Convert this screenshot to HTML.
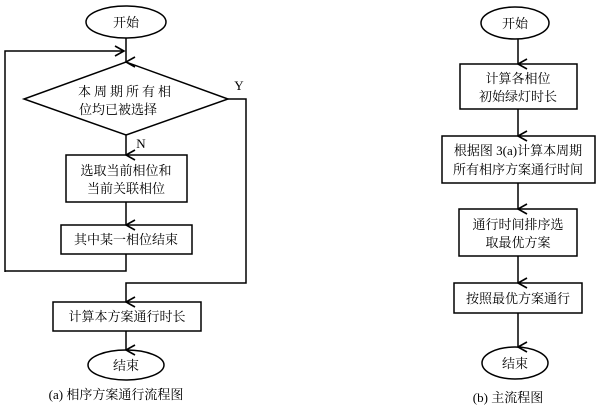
<!DOCTYPE html>
<html><head><meta charset="utf-8"><style>body{margin:0;background:#fff}svg{display:block}text{font-family:"Liberation Serif","Noto Serif CJK SC","Noto Sans CJK SC",serif;font-size:13px;fill:#000;text-anchor:middle}</style></head>
<body>
<svg width="600" height="408" viewBox="0 0 600 408" xmlns="http://www.w3.org/2000/svg">
<defs><marker id="a" markerWidth="12" markerHeight="12" refX="6" refY="10" orient="auto" markerUnits="userSpaceOnUse" viewBox="0 0 12 12"><path d="M1 1 L6 10 L11 1" fill="none" stroke="#000" stroke-width="1.6"/></marker>
<marker id="r" markerWidth="12" markerHeight="12" refX="10" refY="6" orient="auto" markerUnits="userSpaceOnUse" viewBox="0 0 12 12"><path d="M1 1 L10 6 L1 11" fill="none" stroke="#000" stroke-width="1.6"/></marker></defs>
<g stroke="#000" stroke-width="1.5" fill="none">
<ellipse cx="126" cy="22" rx="40" ry="16"/>
<line x1="126" y1="38" x2="126" y2="62" marker-end="url(#a)"/>
<polyline points="5,272 5,51 124,51" marker-end="url(#r)"/>
<polygon points="126,62 228,99 126,135 24,99"/>
<line x1="126" y1="135" x2="126" y2="155" marker-end="url(#a)"/>
<polyline points="228,99 246,99 246,283 126,283 126,302" marker-end="url(#a)"/>
<rect x="66" y="155" width="121" height="47"/>
<line x1="126" y1="202" x2="126" y2="225" marker-end="url(#a)"/>
<rect x="61" y="225" width="131" height="29"/>
<polyline points="126,254 126,271 5,271"/>
<rect x="53" y="302" width="148" height="29"/>
<line x1="126" y1="331" x2="126" y2="350" marker-end="url(#a)"/>
<ellipse cx="126" cy="365" rx="38" ry="15"/>

<ellipse cx="515" cy="23" rx="34" ry="16"/>
<line x1="518" y1="39" x2="518" y2="64" marker-end="url(#a)"/>
<rect x="460" y="64" width="117" height="45"/>
<line x1="518" y1="109" x2="518" y2="136" marker-end="url(#a)"/>
<rect x="442" y="136" width="153" height="47"/>
<line x1="518" y1="183" x2="518" y2="209" marker-end="url(#a)"/>
<rect x="459" y="209" width="118" height="47"/>
<line x1="518" y1="256" x2="518" y2="283" marker-end="url(#a)"/>
<rect x="454" y="283" width="128" height="30"/>
<line x1="518" y1="313" x2="518" y2="347" marker-end="url(#a)"/>
<ellipse cx="515" cy="363" rx="33" ry="16"/>
</g>
<text x="126" y="27">开始</text>
<text x="126" y="96" style="letter-spacing:3px">本周期所有相</text>
<text x="118" y="114">位均已被选择</text>
<text x="141" y="148">N</text>
<text x="239" y="90">Y</text>
<text x="126" y="175">选取当前相位和</text>
<text x="126" y="193">当前关联相位</text>
<text x="126" y="244">其中某一相位结束</text>
<text x="127" y="321">计算本方案通行时长</text>
<text x="126" y="370">结束</text>
<text x="116" y="399">(a) 相序方案通行流程图</text>
<text x="515" y="28">开始</text>
<text x="518" y="83">计算各相位</text>
<text x="518" y="101">初始绿灯时长</text>
<text x="518" y="155">根据图 3(a)计算本周期</text>
<text x="518" y="174">所有相序方案通行时间</text>
<text x="518" y="229">通行时间排序选</text>
<text x="518" y="247">取最优方案</text>
<text x="518" y="303">按照最优方案通行</text>
<text x="515" y="368">结束</text>
<text x="508" y="402">(b) 主流程图</text>
</svg>
</body></html>
